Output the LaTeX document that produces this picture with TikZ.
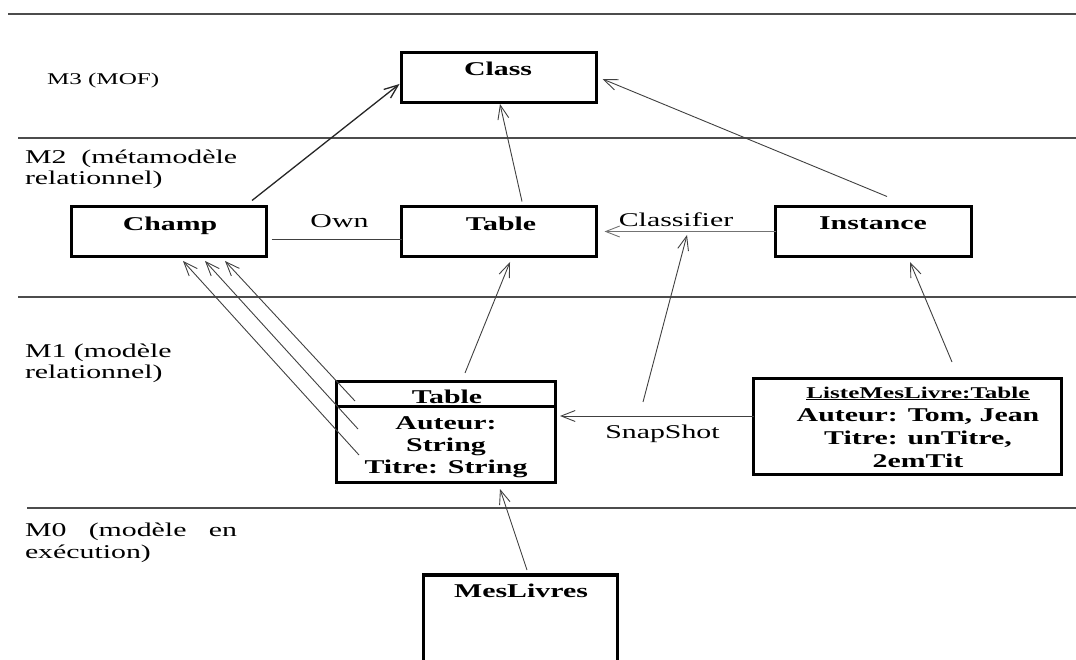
\documentclass[tikz,border=0pt]{standalone}
\usepackage{fontspec}
\setmainfont{Liberation Serif}[FakeStretch=1.53]
\usetikzlibrary{arrows.meta,calc}
% multi-line text whose baseline is the first line
\newcommand{\txtstack}[2]{\begin{tabular}[t]{@{}#1@{}}#2\end{tabular}}

\begin{document}
\begin{tikzpicture}[x=1pt,y=-1pt,
  every node/.style={inner sep=0pt, outer sep=0pt},
  box/.style={draw=black, line width=3.5pt, rectangle, inner sep=0pt},
  lbl/.style={font=\fontsize{19.5}{22}\selectfont, anchor=base},
  boxtitle/.style={lbl, font=\fontsize{19.5}{22}\selectfont\bfseries},
  levelname/.style={font=\fontsize{19.5}{21}\selectfont, anchor=base west},
  sepline/.style={draw=black!70, line width=1.2pt},
  conn/.style={draw=black!75, line width=0.9pt},
  arr/.style={conn, -{Straight Barb[length=14pt,width=11pt]}},
]
\useasboundingbox (0,0) rectangle (1076,660);
\clip (0,0) rectangle (1076,660);

% level separators
\draw[sepline, line width=2.2pt] (8,14) -- (1076,14);
\draw[sepline] (18,138) -- (1076,138);
\draw[sepline] (18,297) -- (1076,297);
\draw[sepline] (27,508) -- (1076,508);

% level names
\node[levelname, font=\fontsize{16.4}{20}\selectfont] (m3) at (47,85) {M3 (MOF)};
\node[levelname] (m2) at (25,164) {\txtstack{l}{M2\ \ (métamodèle\\relationnel)}};
\node[levelname] (m1) at (25,357) {\txtstack{l}{M1 (modèle\\relationnel)}};
\node[levelname, font=\fontsize{19.5}{22}\selectfont] (m0) at (25,536)
  {\txtstack{l}{\makebox[212pt][s]{M0 (modèle en}\\exécution)}};

% M3
\node[box, minimum width=195, minimum height=50] (class) at (499,77.5) {};
\node[boxtitle] (class-t) at (498,76) {Class};

% M2
\node[box, minimum width=195, minimum height=50] (champ) at (169,231.5) {};
\node[boxtitle] (champ-t) at (170,231) {Champ};
\node[box, minimum width=195, minimum height=50] (table2) at (499,231.5) {};
\node[boxtitle] (table2-t) at (501,231) {Table};
\node[box, minimum width=196, minimum height=50] (instance) at (873.5,231.5) {};
\node[boxtitle] (instance-t) at (873,230) {Instance};

% M1
\node[box, minimum width=219, minimum height=101] (tab1) at (446,432) {};
\draw[line width=3pt] ($(tab1.north west)+(0,25)$) -- ($(tab1.north east)+(0,25)$);
\node[boxtitle] (tab1-t) at (447,403) {Table};
\node[boxtitle] (tab1-b) at (446,429) {\txtstack{c}{Auteur:\\String\\Titre: String}};

\node[box, minimum width=308, minimum height=96] (liste) at (907.5,426.5) {};
\node[boxtitle, font=\fontsize{16.4}{18}\selectfont\bfseries] (liste-t) at (918,398)
  {\underline{ListeMesLivre:Table}};
\node[boxtitle, font=\fontsize{19.5}{23}\selectfont\bfseries] (liste-b) at (918,421)
  {\txtstack{c}{Auteur: Tom, Jean\\Titre: unTitre,\\2emTit}};

% M0
\node[box, minimum width=194, minimum height=125] (meslivres) at (520.5,637.5) {};
\node[boxtitle] (meslivres-t) at (521,597) {MesLivres};

% connector labels
\node[lbl] (own) at (339.5,228) {Own};
\node[lbl] (classifier) at (676,227) {Classifier};
\node[lbl] (snapshot) at (662.5,438) {SnapShot};

% instance-of links
\draw[arr, draw=black!85, line width=1.3pt] ($(champ.north)+(83,-6)$) -- ($(class.west)+(-2,6.5)$);
\draw[arr] ($(table2.north)+(23,-5)$) -- ($(class.south)+(1,1.5)$);
\draw[arr] ($(instance.north)+(13.5,-10)$) -- ($(class.east)+(6,1.5)$);
\draw[arr, draw=black!55] (instance.west) -- ($(table2.east)+(8,0)$);
\draw[conn] ($(champ.east)+(5,7.5)$) -- ($(table2.west)+(0,7.5)$);

\draw[arr] ($(tab1.north)+(19,-8.5)$) -- ($(table2.south)+(11,5.5)$);
\draw[arr] ($(tab1.west)+(22.5,23)$) -- ($(champ.south)+(14,4.5)$);
\draw[arr] ($(tab1.west)+(21.5,-3)$) -- ($(champ.south)+(36,4.5)$);
\draw[arr] ($(tab1.west)+(18.5,-31)$) -- ($(champ.south)+(56,4.5)$);

\draw[arr] ($(liste.west)+(0,-10.5)$) -- ($(tab1.east)+(4.5,-16)$);
\coordinate (snapfoot) at ($(liste.west)+(-110.5,-24.5)$);
\coordinate (classifmid) at ($(instance.west)+(-88.5,3.5)$);
\draw[arr] (snapfoot) -- (classifmid);
\draw[arr] ($(liste.north)+(44.5,-16.5)$) -- ($(instance.south)+(36.5,5.5)$);

\draw[arr] ($(meslivres.north)+(6.5,-5)$) -- ($(tab1.south)+(54,6.5)$);
\end{tikzpicture}
\end{document}
